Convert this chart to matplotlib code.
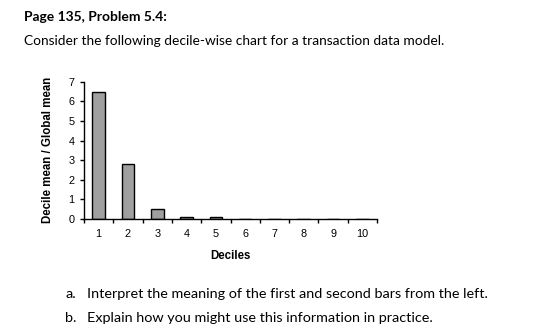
import matplotlib
matplotlib.use("Agg")
import matplotlib.pyplot as plt

deciles = [1, 2, 3, 4, 5, 6, 7, 8, 9, 10]
values = [6.5, 2.8, 0.5, 0.1, 0.1, 0.0, 0.0, 0.0, 0.0, 0.0]
yticks = [0, 1, 2, 3, 4, 5, 6, 7]

W, H = 560, 335
fig = plt.figure(figsize=(W / 100, H / 100), dpi=100)
fig.patch.set_facecolor("white")

ax = fig.add_axes([84 / W, 1 - 219 / H, 293 / W, (219 - 81.7) / H])
ax.bar(deciles, values, width=0.43, color="#a0a0a0", edgecolor="black", linewidth=1.0)
ax.set_xlim(0.5, 10.5)
ax.set_ylim(0, 7)
ax.set_yticks(yticks)
ax.set_xticks(deciles)
ax.set_xticks([d + 0.5 for d in [0] + deciles], minor=True)
ax.tick_params(axis="x", which="major", length=0, pad=7)
ax.tick_params(axis="x", which="minor", length=3, width=1, direction="out")
ax.tick_params(axis="y", length=3, width=1, direction="out", pad=4)
for lab in ax.get_xticklabels() + ax.get_yticklabels():
    lab.set_fontfamily("Liberation Sans")
    lab.set_fontsize(7.8)
for s in ["top", "right"]:
    ax.spines[s].set_visible(False)
for s in ["left", "bottom"]:
    ax.spines[s].set_linewidth(1.0)

ax.set_xlabel("Deciles", fontfamily="Liberation Sans", fontweight="bold", fontsize=8.3, labelpad=8)
ax.set_ylabel("Decile mean / Global mean", fontfamily="Liberation Sans", fontweight="bold", fontsize=8.3, labelpad=10)

tf = "Lato"
fig.text(24 / W, 1 - 17 / H, "Page 135, Problem 5.4:", fontfamily=tf, fontweight="bold", fontsize=10, va="center", ha="left")
fig.text(24 / W, 1 - 41 / H, "Consider the following decile-wise chart for a transaction data model.", fontfamily=tf, fontsize=9.9, va="center", ha="left")
fig.text(65 / W, 1 - 294 / H, "a.", fontfamily=tf, fontsize=10.4, va="center", ha="left")
fig.text(87 / W, 1 - 294 / H, "Interpret the meaning of the first and second bars from the left.", fontfamily=tf, fontsize=10.4, va="center", ha="left")
fig.text(65 / W, 1 - 318 / H, "b.", fontfamily=tf, fontsize=10.4, va="center", ha="left")
fig.text(87 / W, 1 - 318 / H, "Explain how you might use this information in practice.", fontfamily=tf, fontsize=10.4, va="center", ha="left")

fig.savefig("out.png", dpi=100, facecolor="white")
